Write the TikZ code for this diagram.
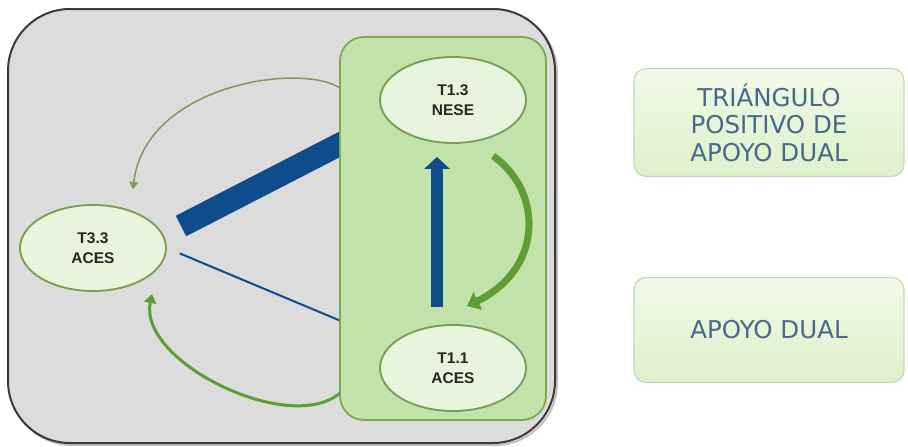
\documentclass[tikz,border=0pt]{standalone}
\usepackage{fontspec}
\setmainfont{Liberation Sans}
\newfontfamily\boxfont{DejaVu Sans}
\usetikzlibrary{arrows.meta,calc,shapes.geometric}
\definecolor{outerbg}{HTML}{DCDCDC}
\definecolor{outerln}{HTML}{3A3A3A}
\definecolor{panelbg}{HTML}{C3E2AA}
\definecolor{panelln}{HTML}{7AAA52}
\definecolor{ellbg}{HTML}{E8F4DD}
\definecolor{ellln}{HTML}{789C52}
\definecolor{navy}{HTML}{0F4C8C}
\definecolor{agreen}{HTML}{5E9E34}
\definecolor{tgreen}{HTML}{7F9A5E}
\definecolor{boxtxt}{HTML}{4A6888}
\definecolor{boxtop}{HTML}{F1F9E8}
\definecolor{boxbot}{HTML}{DDF0CB}
\definecolor{boxln}{HTML}{C6D6BC}
\pgfdeclarelayer{back}
\pgfdeclarelayer{bars}
\pgfdeclarelayer{panellayer}
\pgfsetlayers{back,bars,panellayer,main}
\tikzset{
  ell/.style={ellipse, draw=ellln, line width=1.8pt, fill=ellbg, minimum width=146pt, minimum height=86pt, inner sep=0pt, align=center, font=\fontsize{15.5}{19.5}\selectfont\bfseries, text=black!85},
  rbox/.style={rounded corners=12pt, draw=boxln, line width=1.2pt, top color=boxtop, bottom color=boxbot, minimum width=270pt, align=center, text=boxtxt, font=\boxfont\fontsize{24.5}{27.5}\selectfont},
  thickbar/.style={draw=navy, line width=23pt, line cap=butt},
  thinbar/.style={draw=navy, line width=2pt},
  thinarrow/.style={draw=tgreen, line width=1.5pt, -{Triangle[width=9pt,length=7pt]}},
  midarrow/.style={draw=agreen, line width=3pt, -{Triangle[width=12pt,length=9pt]}},
  bigarrow/.style={draw=agreen, line width=7pt, -{Triangle[width=19pt,length=12pt]}},
  uparrow/.style={draw=navy, line width=12pt, -{Triangle[width=25pt,length=12pt]}},
}
\begin{document}
\begin{tikzpicture}[x=1pt,y=-1pt]
\useasboundingbox (0,0) rectangle (908,447);
% outer frame
\begin{pgfonlayer}{back}
\draw[draw=black!25, line width=2pt, rounded corners=62pt] (10,11) rectangle (557,445);
\node[draw=outerln, line width=2pt, fill=outerbg, rounded corners=62pt, minimum width=547pt, minimum height=434pt, inner sep=0pt] (outer) at (281.5,226) {};
\end{pgfonlayer}
% green panel
\begin{pgfonlayer}{panellayer}
\node[draw=panelln, line width=1.8pt, fill=panelbg, rounded corners=24pt, minimum width=206pt, minimum height=383pt, inner sep=0pt] (panel) at (443,228.5) {};
\end{pgfonlayer}
% ellipses
\node[ell] (t13) at (453,100) {T1.3\\NESE};
\node[ell] (t11) at (453,368) {T1.1\\ACES};
\node[ell] (t33) at (93,248) {T3.3\\ACES};
% bars behind panel
\coordinate (barA) at (181,226);
\coordinate (barB) at (420,103);
\begin{pgfonlayer}{bars}
\draw[thickbar] (barA) -- (barB);
\draw[thinbar, shorten <=14pt] (t33.east) -- (t11);
\end{pgfonlayer}
% green arrows to T3.3
\coordinate (ta) at (340,88);
\coordinate (tb) at (133,189);
\draw[thinarrow] (ta) .. controls (300,62) and (145,85) .. (tb);
\coordinate (ma) at (340,393);
\coordinate (mb) at (152,294);
\draw[midarrow] (ma) .. controls (290,436) and (138,362) .. (mb);
% arrows in panel
\draw[uparrow] ([xshift=-16pt,yshift=17pt]t11.north) -- ([xshift=-16pt,yshift=-13pt]t13.south);
\draw[bigarrow] ([xshift=40pt,yshift=-12pt]t13.south) .. controls (542,190) and (545,268) .. ([xshift=14pt,yshift=18pt]t11.north);
% right boxes
\node[rbox, minimum height=108pt] (box1) at (769,122.5) {TRIÁNGULO\\POSITIVO DE\\APOYO DUAL};
\node[rbox, minimum height=105pt] (box2) at (769,330) {APOYO DUAL};
\end{tikzpicture}
\end{document}
